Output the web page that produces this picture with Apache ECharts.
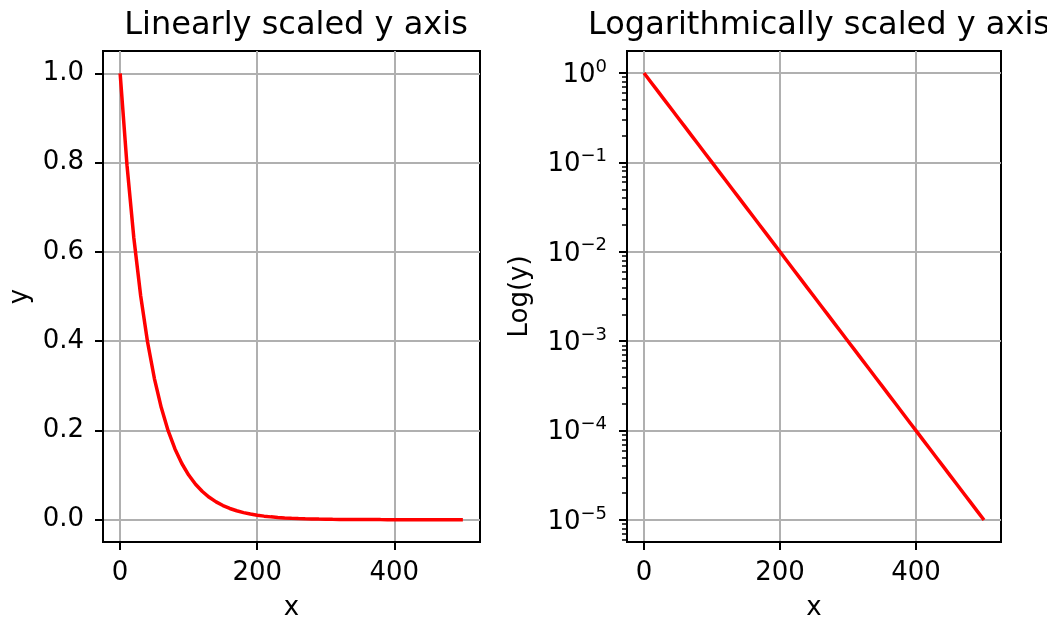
<!DOCTYPE html>
<html>
<head>
<meta charset="utf-8">
<script src="https://cdn.jsdelivr.net/npm/echarts@6/dist/echarts.min.js"></script>
<style>
  html, body { margin: 0; padding: 0; background: #fff; }
  #chart { width: 1047px; height: 622px; }
</style>
</head>
<body>
<div id="chart"></div>
<script>
var dom = document.getElementById('chart');
var myChart = echarts.init(dom);

// values (x from 0 to 500)
var xValues = [0, 10, 20, 30, 40, 50, 60, 70, 80, 90,
    100, 110, 120, 130, 140, 150, 160, 170, 180, 190,
    200, 210, 220, 230, 240, 250, 260, 270, 280, 290,
    300, 310, 320, 330, 340, 350, 360, 370, 380, 390,
    400, 410, 420, 430, 440, 450, 460, 470, 480, 490, 500];
var yValues = [1, 0.7943, 0.631, 0.5012, 0.3981, 0.3162, 0.2512, 0.1995, 0.1585, 0.1259,
    0.1, 0.07943, 0.0631, 0.05012, 0.03981, 0.03162, 0.02512, 0.01995, 0.01585, 0.01259,
    0.01, 0.007943, 0.00631, 0.005012, 0.003981, 0.003162, 0.002512, 0.001995, 0.001585, 0.001259,
    0.001, 0.0007943, 0.000631, 0.0005012, 0.0003981, 0.0003162, 0.0002512, 0.0001995, 0.0001585, 0.0001259,
    0.0001, 0.00007943, 0.0000631, 0.00005012, 0.00003981, 0.00003162, 0.00002512, 0.00001995, 0.00001585, 0.00001259,
    0.00001];

var xTicks = [0, 200, 400];
var linTicks = [0, 0.2, 0.4, 0.6, 0.8, 1.0];
var logTicks = [1e-5, 1e-4, 1e-3, 1e-2, 1e-1, 1];
var logMinorTicks = [6e-6, 7e-6, 8e-6, 9e-6,
    2e-5, 3e-5, 4e-5, 5e-5, 6e-5, 7e-5, 8e-5, 9e-5,
    2e-4, 3e-4, 4e-4, 5e-4, 6e-4, 7e-4, 8e-4, 9e-4,
    2e-3, 3e-3, 4e-3, 5e-3, 6e-3, 7e-3, 8e-3, 9e-3,
    2e-2, 3e-2, 4e-2, 5e-2, 6e-2, 7e-2, 8e-2, 9e-2,
    2e-1, 3e-1, 4e-1, 5e-1, 6e-1, 7e-1, 8e-1, 9e-1];

var points = xValues.map(function (x, i) { return [x, yValues[i]]; });

var font = 'DejaVu Sans';
var gridLine = { show: true, lineStyle: { color: '#b0b0b0', width: 2 } };
var tick = { show: true, inside: false, length: 8, lineStyle: { color: '#000', width: 2 } };
var axisLine = { show: true, onZero: false, lineStyle: { color: '#000', width: 2 } };

function xAxisFor(gridIndex) {
    return {
        type: 'value', gridIndex: gridIndex, min: -25, max: 525,
        name: 'x', nameLocation: 'middle', nameGap: 53,
        nameTextStyle: { fontFamily: font, fontSize: 26, color: '#000' },
        axisLine: axisLine,
        axisTick: Object.assign({}, tick, { customValues: xTicks }),
        axisLabel: { customValues: xTicks, margin: 18, fontFamily: font, fontSize: 26, color: '#000' },
        splitLine: gridLine
    };
}

function expLabel(v) {
    var e = Math.round(Math.log10(v));
    var s = e < 0 ? '\u2212' + (-e) : '' + e;
    return '{b|10}{s|' + s + '}';
}

option = {
    animation: false,
    backgroundColor: '#fff',
    title: [
        { text: 'Linearly scaled y axis', left: 291, top: 5, textAlign: 'center',
          textStyle: { fontFamily: font, fontSize: 32, fontWeight: 'normal', color: '#000' } },
        { text: 'Logarithmically scaled y axis', left: 814, top: 5, textAlign: 'center',
          textStyle: { fontFamily: font, fontSize: 32, fontWeight: 'normal', color: '#000' } }
    ],
    grid: [
        { left: 103, top: 51, width: 377, height: 491, outerBoundsMode: 'none', containLabel: false,
          show: true, borderColor: '#000', borderWidth: 2, backgroundColor: 'transparent' },
        { left: 627, top: 51, width: 374, height: 491, outerBoundsMode: 'none', containLabel: false,
          show: true, borderColor: '#000', borderWidth: 2, backgroundColor: 'transparent' }
    ],
    xAxis: [xAxisFor(0), xAxisFor(1)],
    yAxis: [
        {
            type: 'value', gridIndex: 0, min: -0.05, max: 1.05,
            name: 'y', nameLocation: 'middle', nameGap: 70, nameRotate: 90,
            nameTextStyle: { fontFamily: font, fontSize: 26, color: '#000' },
            axisLine: axisLine,
            axisTick: Object.assign({}, tick, { customValues: linTicks }),
            axisLabel: { customValues: linTicks, margin: 19, fontFamily: font, fontSize: 26, color: '#000',
                formatter: function (v) { return v.toFixed(1); } },
            splitLine: gridLine
        },
        {
            type: 'log', gridIndex: 1, min: 5.68e-6, max: 1.762,
            name: 'Log(y)', nameLocation: 'middle', nameGap: 94, nameRotate: 90,
            nameTextStyle: { fontFamily: font, fontSize: 26, color: '#000' },
            axisLine: axisLine,
            axisTick: Object.assign({}, tick, { customValues: logTicks }),
            axisLabel: {
                customValues: logTicks, margin: 20, color: '#000',
                formatter: expLabel,
                rich: {
                    b: { fontFamily: font, fontSize: 26, lineHeight: 30, verticalAlign: 'bottom' },
                    s: { fontFamily: font, fontSize: 18, lineHeight: 30, verticalAlign: 'top' }
                }
            },
            splitLine: gridLine
        },
        {
            // minor ticks of the log axis
            type: 'log', gridIndex: 1, position: 'left', min: 5.68e-6, max: 1.762,
            axisLine: { show: false, onZero: false },
            axisLabel: { show: false },
            splitLine: { show: false },
            axisTick: { show: true, inside: false, length: 5, customValues: logMinorTicks,
                lineStyle: { color: '#000', width: 1.5 } }
        }
    ],
    series: [
        { type: 'line', xAxisIndex: 0, yAxisIndex: 0, data: points, showSymbol: false,
          lineStyle: { color: '#ff0000', width: 3.5 }, z: 5 },
        { type: 'line', xAxisIndex: 1, yAxisIndex: 1, data: points, showSymbol: false,
          lineStyle: { color: '#ff0000', width: 3.5 }, z: 5 }
    ]
};

if (option && typeof option === 'object') {
    myChart.setOption(option);
}
</script>
</body>
</html>
